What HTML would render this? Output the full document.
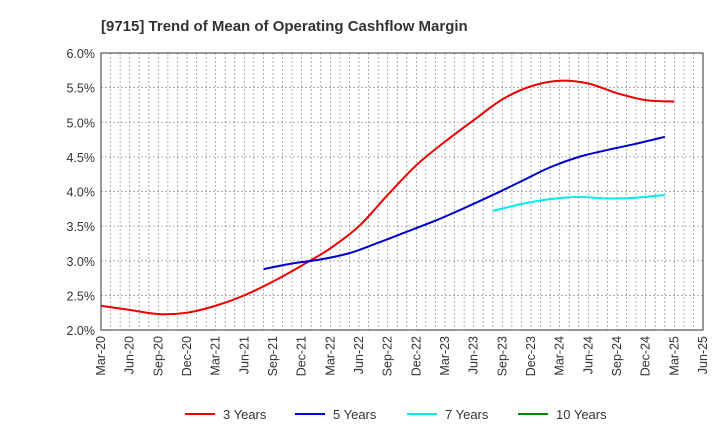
<!DOCTYPE html>
<html><head><meta charset="utf-8"><style>
body{margin:0;background:#fff;font-family:"Liberation Sans",sans-serif}
svg text{font-family:"Liberation Sans",sans-serif}
</style></head><body>
<svg id="c" width="720" height="440" xmlns="http://www.w3.org/2000/svg">
<text x="101" y="31" font-size="15" font-weight="bold" fill="#333">[9715]  Trend of Mean of Operating Cashflow Margin</text>
<g id="grid"></g><g id="axes"></g><g id="lines"></g><g id="legend"></g>
</svg>
<script>
const xLabels=["Mar-20","Jun-20","Sep-20","Dec-20","Mar-21","Jun-21","Sep-21","Dec-21","Mar-22","Jun-22","Sep-22","Dec-22","Mar-23","Jun-23","Sep-23","Dec-23","Mar-24","Jun-24","Sep-24","Dec-24","Mar-25","Jun-25"];
const yTicks=[2.0,2.5,3.0,3.5,4.0,4.5,5.0,5.5,6.0];
const s3=[2.35,2.29,2.23,2.25,2.35,2.50,2.70,2.93,3.18,3.50,3.95,4.38,4.72,5.03,5.33,5.52,5.60,5.56,5.42,5.32,5.30];
const s3Start=0;
const s5=[2.88,2.96,3.02,3.11,3.26,3.42,3.58,3.76,3.95,4.15,4.35,4.50,4.60,4.69,4.79];
const s5Start=5.67;
const s7=[3.72,3.82,3.89,3.92,3.90,3.91,3.95];
const s7Start=13.67;
const s10=[];
const s10Start=0;
const L=101,R=703,T=53,B=330,NS="http://www.w3.org/2000/svg";
const xs=i=>L+(R-L)*i/(xLabels.length-1);
const ys=v=>B-(v-2)/(6-2)*(B-T);
function mk(t,a,p){const e=document.createElementNS(NS,t);for(const k in a)e.setAttribute(k,a[k]);p.appendChild(e);return e;}
const grid=document.getElementById('grid'),axes=document.getElementById('axes'),lines=document.getElementById('lines'),leg=document.getElementById('legend');
for(let m=1;m<(xLabels.length-1)*3;m++){const x=L+(R-L)*m/((xLabels.length-1)*3);
const g=mk('line',{x1:x,x2:x,y1:T,y2:B,stroke:'#999','stroke-width':0.8,'stroke-dasharray':'2,2'},grid);

}
yTicks.forEach(v=>{const y=ys(v);
const g=mk('line',{x1:L,x2:R,y1:y,y2:y,stroke:'#999','stroke-width':0.8,'stroke-dasharray':'2,2'},grid);


const t=mk('text',{x:L-6,y:y+5,'text-anchor':'end','font-size':12.5,fill:'#333'},axes);t.textContent=v.toFixed(1)+'%';

});
const fr=mk('rect',{x:L,y:T,width:R-L,height:B-T,fill:'none',stroke:'#333','stroke-width':1},axes);


xLabels.forEach((l,i)=>{const x=xs(i);
const t=mk('text',{x:0,y:0,'text-anchor':'end','font-size':12.5,fill:'#333',transform:`translate(${x+4},${B+6}) rotate(-90)`},axes);t.textContent=l;

});
function path(vals,start){const p=vals.map((v,i)=>[xs(start+i),ys(v)]);if(!p.length)return'';let d=`M${p[0][0]},${p[0][1]}`;
for(let i=0;i<p.length-1;i++){const p0=p[i-1]||p[i],p1=p[i],p2=p[i+1],p3=p[i+2]||p2;
d+=`C${p1[0]+(p2[0]-p0[0])/6},${p1[1]+(p2[1]-p0[1])/6} ${p2[0]-(p3[0]-p1[0])/6},${p2[1]-(p3[1]-p1[1])/6} ${p2[0]},${p2[1]}`;}return d;}
const series=[[s3,s3Start,'#e00','3 Years','series-3-years',185],[s5,s5Start,'#00c','5 Years','series-5-years',295],[s7,s7Start,'#0ee','7 Years','series-7-years',407],[s10,s10Start,'#080','10 Years','series-10-years',518]];
series.forEach(s=>{if(s[0].length){const e=mk('path',{d:path(s[0],s[1]),fill:'none',stroke:s[2],'stroke-width':2},lines);

}
const g=mk('g',{},leg);


mk('line',{x1:s[5],x2:s[5]+30,y1:414,y2:414,stroke:s[2],'stroke-width':2},g);
const t=mk('text',{x:s[5]+38,y:419,'font-size':13,fill:'#333'},g);t.textContent=s[3];});
</script>
</body></html>
